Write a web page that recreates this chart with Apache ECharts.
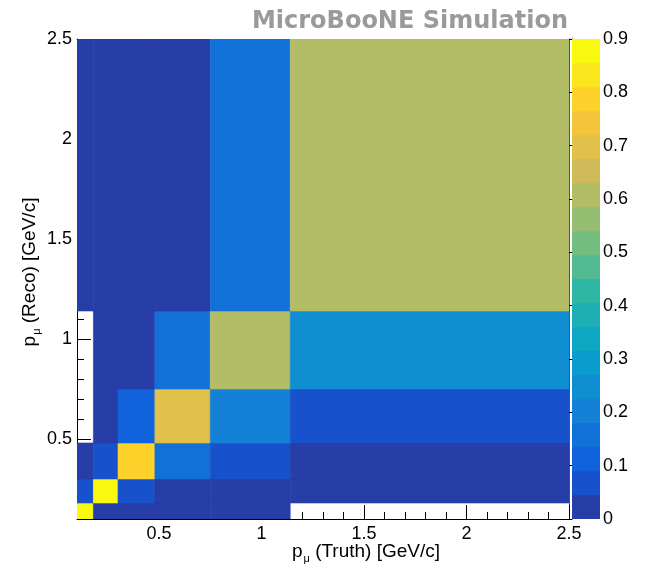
<!DOCTYPE html>
<html><head><meta charset="utf-8">
<script src="https://cdn.jsdelivr.net/npm/echarts@6/dist/echarts.min.js"></script>
<style>html,body{margin:0;padding:0;background:#fff}#c{width:648px;height:575px}</style>
</head><body><div id="c"></div>
<script>
// Bin edges (GeV/c), same for truth (x) and reco (y)
const truthEdges = [0.1, 0.18, 0.3, 0.48, 0.75, 1.14, 2.5];
const recoEdges  = [0.1, 0.18, 0.3, 0.48, 0.75, 1.14, 2.5];
// Cell values: one array per reco bin (bottom to top), entries per truth bin (left to right); 0 = empty
const reco_0p10_0p18 = [0.89, 0.02, 0.01, 0.005, 0.005, 0];
const reco_0p18_0p30 = [0.08, 0.90, 0.07, 0.01, 0.01, 0.005];
const reco_0p30_0p48 = [0.02, 0.07, 0.79, 0.15, 0.07, 0.03];
const reco_0p48_0p75 = [0, 0.01, 0.11, 0.69, 0.195, 0.07];
const reco_0p75_1p14 = [0, 0.005, 0.02, 0.15, 0.60, 0.25];
const reco_1p14_2p50 = [0.01, 0.005, 0.01, 0.02, 0.15, 0.61];
const recoRows = [reco_0p10_0p18, reco_0p18_0p30, reco_0p30_0p48, reco_0p48_0p75, reco_0p75_1p14, reco_1p14_2p50];
// Axis tick values
const majorTicks = [0.5, 1, 1.5, 2, 2.5];
const minorTicks = [0.2, 0.3, 0.4, 0.6, 0.7, 0.8, 0.9, 1.1, 1.2, 1.3, 1.4, 1.6, 1.7, 1.8, 1.9, 2.1, 2.2, 2.3, 2.4];
// Colour contour levels (20 bands, 0 .. 0.9)
const zLevels = [0, 0.045, 0.09, 0.135, 0.18, 0.225, 0.27, 0.315, 0.36, 0.405, 0.45, 0.495, 0.54, 0.585, 0.63, 0.675, 0.72, 0.765, 0.81, 0.855, 0.9];
const birdColors = ['#273DA7','#1751CB','#1063DC','#1271D9','#1480D6','#0F8ED1','#099CCC','#0DA7C3','#1DAFB4','#2DB7A4',
  '#51BA92','#73BD81','#94BE72','#B2BD66','#D0BB59','#E1C04B','#F4C53B','#FDD22B','#FBE61D','#F9F90F'];

function colorFor(v) {
  let k = 0;
  for (let i = 0; i < birdColors.length; i++) if (v >= zLevels[i] - 1e-9) k = i;
  return birdColors[k];
}

const cells = [];
recoRows.forEach((row, j) => row.forEach((z, i) => {
  if (z > 0) cells.push([truthEdges[i], truthEdges[i + 1], recoEdges[j], recoEdges[j + 1], z]);
}));
const bands = [];
for (let i = 0; i < birdColors.length; i++) bands.push([0, 1, zLevels[i], zLevels[i + 1], i]);

const FONT = 'Liberation Sans, Arial, Helvetica, sans-serif';
const blk = '#000';

const chart = echarts.init(document.getElementById('c'), null, {renderer: 'canvas'});
const rectItem = (fill) => function (params, api) {
  const a = api.coord([api.value(0), api.value(3)]);
  const b = api.coord([api.value(1), api.value(2)]);
  const c = fill(api);
  return {type: 'rect', shape: {x: a[0], y: a[1], width: b[0] - a[0], height: b[1] - a[1]},
    style: {fill: c, stroke: c, lineWidth: 0.6}};
};

chart.setOption({
  animation: false,
  backgroundColor: '#fff',
  grid: [
    {left: 77, top: 39, width: 492, height: 480, show: false},
    {left: 572, top: 39, width: 28, height: 480, show: false}
  ],
  xAxis: [
    {gridIndex: 0, type: 'value', min: 0.1, max: 2.5, position: 'bottom',
      axisLine: {show: true, lineStyle: {color: blk, width: 1}},
      axisTick: {show: true, inside: true, length: 14, customValues: majorTicks, lineStyle: {color: blk, width: 1}},
      axisLabel: {show: true, customValues: majorTicks, fontSize: 18, color: blk, fontFamily: FONT, margin: 6},
      splitLine: {show: false}},
    {gridIndex: 0, type: 'value', min: 0.1, max: 2.5, position: 'bottom',
      axisLine: {show: false},
      axisTick: {show: true, inside: true, length: 7, customValues: minorTicks, lineStyle: {color: blk, width: 1}},
      axisLabel: {show: false}, splitLine: {show: false}},
    {gridIndex: 0, type: 'value', min: 0.1, max: 2.5, position: 'top',
      axisLine: {show: true, lineStyle: {color: '#555', width: 1}}, axisTick: {show: false},
      axisLabel: {show: false}, splitLine: {show: false}},
    {gridIndex: 1, type: 'value', min: 0, max: 1, show: false}
  ],
  yAxis: [
    {gridIndex: 0, type: 'value', min: 0.1, max: 2.5, position: 'left',
      axisLine: {show: true, lineStyle: {color: blk, width: 1}},
      axisTick: {show: true, inside: true, length: 14, customValues: majorTicks, lineStyle: {color: blk, width: 1}},
      axisLabel: {show: true, customValues: majorTicks, fontSize: 18, color: blk, fontFamily: FONT, margin: 5},
      splitLine: {show: false}},
    {gridIndex: 0, type: 'value', min: 0.1, max: 2.5, position: 'left',
      axisLine: {show: false},
      axisTick: {show: true, inside: true, length: 7, customValues: minorTicks, lineStyle: {color: blk, width: 1}},
      axisLabel: {show: false}, splitLine: {show: false}},
    {gridIndex: 0, type: 'value', min: 0.1, max: 2.5, position: 'right',
      axisLine: {show: true, lineStyle: {color: '#555', width: 1}}, axisTick: {show: false},
      axisLabel: {show: false}, splitLine: {show: false}},
    {gridIndex: 1, type: 'value', min: 0, max: 0.9, interval: 0.1, position: 'right',
      axisLine: {show: true, lineStyle: {color: blk, width: 1}},
      axisTick: {show: true, inside: true, length: 12, lineStyle: {color: blk, width: 1}},
      axisLabel: {show: true, fontSize: 18, color: blk, fontFamily: FONT, margin: 3},
      splitLine: {show: false}}
  ],
  series: [
    {type: 'custom', xAxisIndex: 0, yAxisIndex: 0, data: cells, clip: true,
      encode: {x: [0, 1], y: [2, 3]}, renderItem: rectItem(api => colorFor(api.value(4))), z: 1},
    {type: 'custom', xAxisIndex: 3, yAxisIndex: 3, data: bands, clip: true,
      encode: {x: [0, 1], y: [2, 3]}, renderItem: rectItem(api => birdColors[api.value(4)]), z: 1}
  ],
  graphic: [
    {type: 'text', x: 568, y: 22, z: 10,
      style: {text: 'MicroBooNE Simulation', fill: '#9a9a9a', font: 'bold 24px "DejaVu Sans", sans-serif',
        align: 'right', verticalAlign: 'middle'}},
    {type: 'text', x: 366, y: 552, z: 10,
      style: {text: '{p|p}{mu|μ}{r| (Truth) [GeV/c]}', align: 'center', verticalAlign: 'middle',
        rich: {p: {fontSize: 19, fontFamily: FONT, fill: blk},
               mu: {fontSize: 11, fontFamily: FONT, fill: blk, padding: [14, 0, 0, 1]},
               r: {fontSize: 19, fontFamily: FONT, fill: blk}}}},
    {type: 'text', x: 30, y: 272, rotation: Math.PI / 2, z: 10,
      style: {text: '{p|p}{mu|μ}{r| (Reco) [GeV/c]}', align: 'center', verticalAlign: 'middle',
        rich: {p: {fontSize: 19, fontFamily: FONT, fill: blk},
               mu: {fontSize: 11, fontFamily: FONT, fill: blk, padding: [14, 0, 0, 1]},
               r: {fontSize: 19, fontFamily: FONT, fill: blk}}}}
  ]
});
</script>
</body></html>
